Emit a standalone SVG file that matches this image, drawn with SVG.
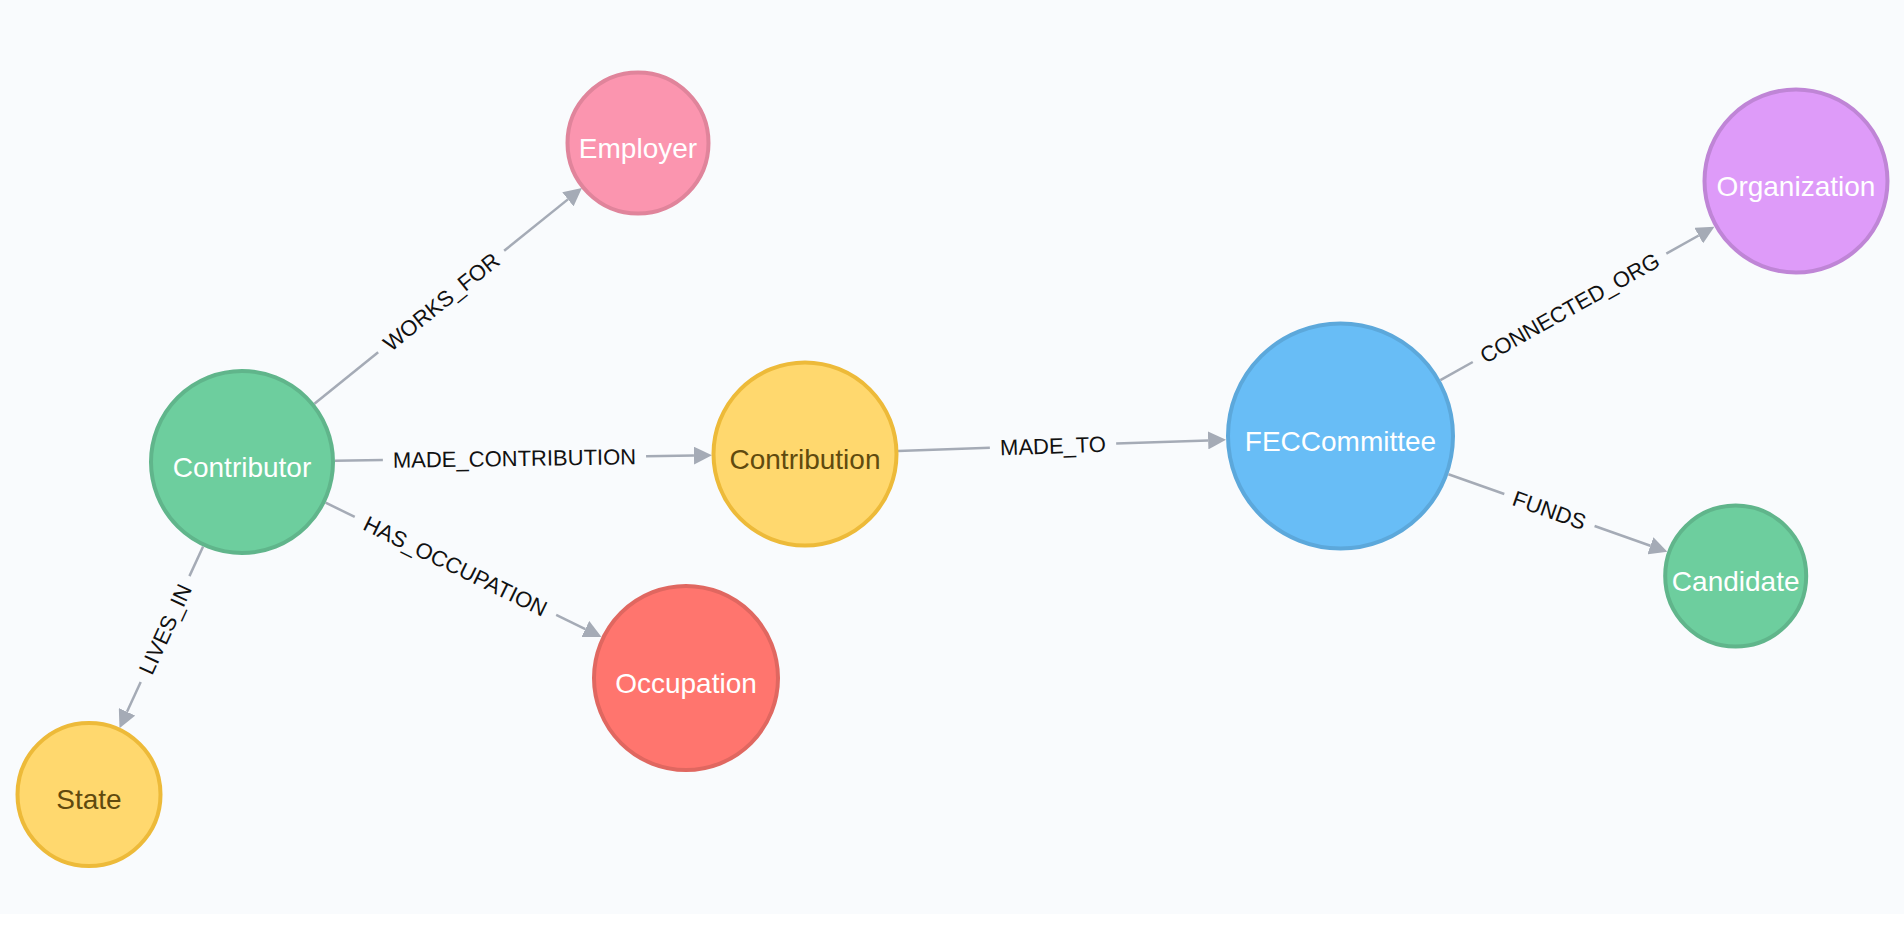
<svg xmlns="http://www.w3.org/2000/svg" width="1904" height="946" viewBox="0 0 1904 946">
<defs>
<style>
.bg{fill:#F9FBFD}
.node circle{stroke-width:4}
.node text{font-family:"Liberation Sans",Arial,sans-serif;font-size:28px;text-anchor:middle}
.lt{fill:#FFFFFF}
.dk{fill:#604A0E}
.green circle{fill:#6DCE9E;stroke:#60B58B}
.pink circle{fill:#FB95AF;stroke:#E0849B}
.yellow circle{fill:#FFD86E;stroke:#EDBA39}
.red circle{fill:#FF756E;stroke:#E06760}
.blue circle{fill:#68BDF6;stroke:#5CA8DB}
.purple circle{fill:#DE9BF9;stroke:#BF85D6}
.edge line{stroke:#A5ABB6;stroke-width:2.5;fill:none}
.edge line.head{marker-end:url(#arrow)}
.edge text{font-family:"Liberation Sans",Arial,sans-serif;font-size:22px;fill:#111;text-anchor:middle}
</style>
<marker id="arrow" markerUnits="userSpaceOnUse" markerWidth="18" markerHeight="18" refX="0" refY="9" orient="auto" viewBox="0 0 18 18">
<path d="M0,0 L18,9 L0,18 z" fill="#A5ABB6"/>
</marker>
</defs>
<rect class="bg" x="0" y="0" width="1904" height="914"/>
<rect x="0" y="914" width="1904" height="32" fill="#FFFFFF"/>

<g id="connectors">
<g id="e-works-for" class="edge" transform="translate(314.4,403.7) rotate(-38.87)">
<line x1="0" y1="0" x2="81.9" y2="0"/>
<line class="head" x1="243.7" y1="0" x2="325.6" y2="0"/>
<text x="162.8" y="0" dy="0.36em">WORKS_FOR</text>
</g>
<g id="e-made-contribution" class="edge" transform="translate(335,460.7) rotate(-0.82)">
<line x1="0" y1="0" x2="47.9" y2="0"/>
<line class="head" x1="311.1" y1="0" x2="359" y2="0"/>
<text x="179.5" y="0" dy="0.36em">MADE_CONTRIBUTION</text>
</g>
<g id="e-has-occupation" class="edge" transform="translate(325.6,502.7) rotate(25.94)">
<line x1="0" y1="0" x2="32.4" y2="0"/>
<line class="head" x1="256.4" y1="0" x2="288.8" y2="0"/>
<text x="144.4" y="0" dy="0.36em">HAS_OCCUPATION</text>
</g>
<g id="e-lives-in" class="edge" transform="translate(203.1,546.4) rotate(114.7)">
<line x1="0" y1="0" x2="32.7" y2="0"/>
<line class="head" x1="149.3" y1="0" x2="182.1" y2="0"/>
<text x="91" y="0" dy="0.36em" transform="rotate(180 91 0)">LIVES_IN</text>
</g>
<g id="e-made-to" class="edge" transform="translate(898,450.9) rotate(-1.94)">
<line x1="0" y1="0" x2="91.9" y2="0"/>
<line class="head" x1="218.3" y1="0" x2="310.3" y2="0"/>
<text x="155.1" y="0" dy="0.36em">MADE_TO</text>
</g>
<g id="e-connected-org" class="edge" transform="translate(1440.4,380.1) rotate(-29.24)">
<line x1="0" y1="0" x2="37.1" y2="0"/>
<line class="head" x1="258.9" y1="0" x2="296" y2="0"/>
<text x="148" y="0" dy="0.36em">CONNECTED_ORG</text>
</g>
<g id="e-funds" class="edge" transform="translate(1448.4,474.2) rotate(19.51)">
<line x1="0" y1="0" x2="59.3" y2="0"/>
<line class="head" x1="155.1" y1="0" x2="214.3" y2="0"/>
<text x="107.2" y="0" dy="0.36em">FUNDS</text>
</g>
</g>

<g id="node-contributor" class="node green">
<circle cx="242" cy="462" r="91"/>
<text class="lt" x="242" y="476.5">Contributor</text>
</g>
<g id="node-employer" class="node pink">
<circle cx="638" cy="143" r="70.5"/>
<text class="lt" x="638" y="157.5">Employer</text>
</g>
<g id="node-contribution" class="node yellow">
<circle cx="805" cy="454" r="91.5"/>
<text class="dk" x="805" y="468.5">Contribution</text>
</g>
<g id="node-state" class="node yellow">
<circle cx="89" cy="794.5" r="71.5"/>
<text class="dk" x="89" y="809">State</text>
</g>
<g id="node-occupation" class="node red">
<circle cx="686" cy="678" r="92"/>
<text class="lt" x="686" y="692.5">Occupation</text>
</g>
<g id="node-feccommittee" class="node blue">
<circle cx="1340.5" cy="436" r="112.5"/>
<text class="lt" x="1340.5" y="450.5">FECCommittee</text>
</g>
<g id="node-organization" class="node purple">
<circle cx="1796" cy="181" r="91.5"/>
<text class="lt" x="1796" y="195.5">Organization</text>
</g>
<g id="node-candidate" class="node green">
<circle cx="1735.7" cy="576" r="70.5"/>
<text class="lt" x="1735.7" y="590.5">Candidate</text>
</g>
</svg>
